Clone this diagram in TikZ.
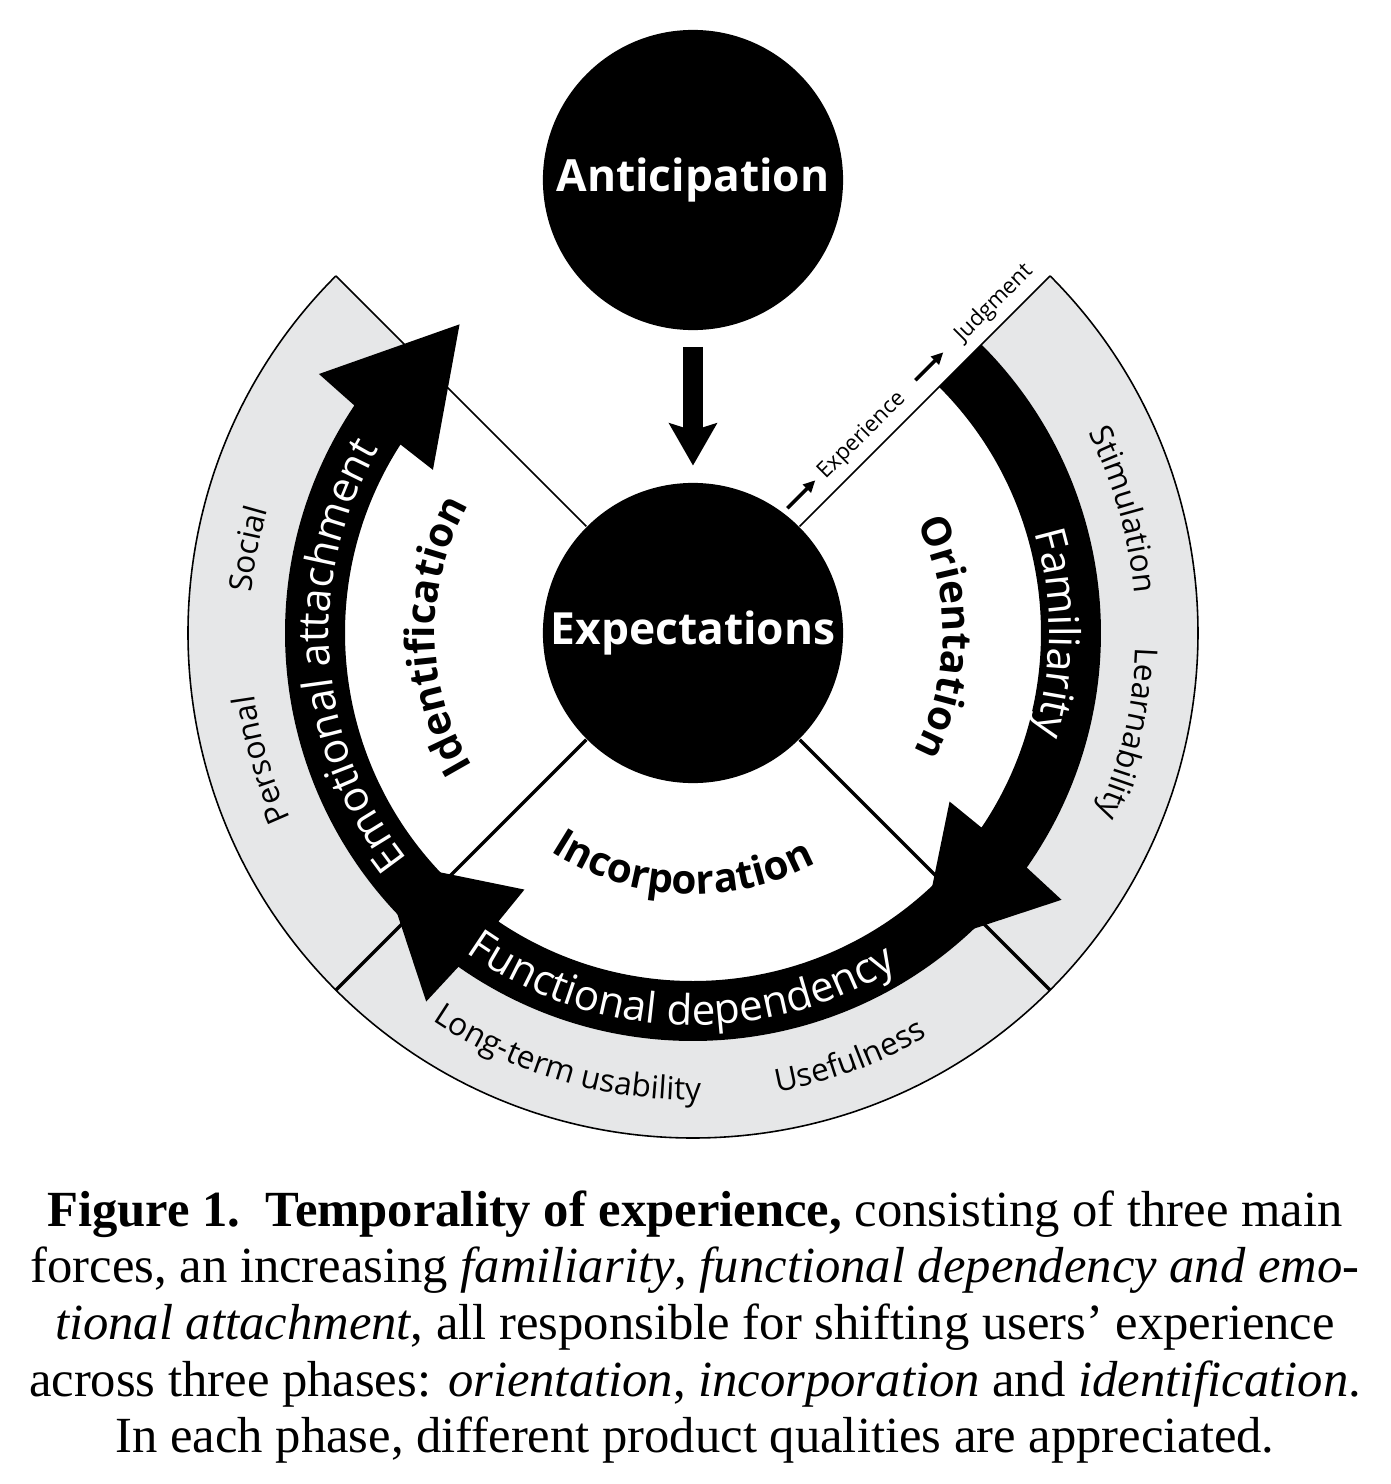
\documentclass[tikz,border=0pt]{standalone}
\usepackage{fontspec}
\setmainfont{Liberation Serif}
\newfontfamily\osans{Open Sans}
\usetikzlibrary{arrows.meta}
\usetikzlibrary{decorations.text}
\definecolor{ringgray}{RGB}{230,231,232}
\newcommand\phasefnt{\osans\bfseries\fontsize{11.5}{14}\selectfont} % phase names
\newcommand\bandfnt{\osans\fontsize{12}{14}\selectfont}             % forces in the black bands
\newcommand\qualfnt{\osans\fontsize{9}{11}\selectfont}              % product qualities
\tikzset{
  bandtext/.style={decorate,decoration={text along path,text align=center,text color=white,text={|\bandfnt|#1}}},
  phasetext/.style={decorate,decoration={text along path,text align=center,text={|\phasefnt|#1}}},
  qualtext/.style={decorate,decoration={text along path,text align=center,text={|\qualfnt|#1}}},
}

\begin{document}
\begin{tikzpicture}
  [x=0.01cm,y=0.01cm,
   ball/.style={circle,fill=black,inner sep=0pt,minimum size=3cm,text=white,
                font=\osans\bfseries\fontsize{12.6}{15}\selectfont},
   thin divider/.style={line width=0.45pt},
   thick divider/.style={line width=1pt},
   bigarrow/.style={line width=0.2cm,-{Stealth[length=0.42cm,width=0.47cm,inset=0.07cm]},
                    shorten <=0.16cm,shorten >=0.166cm},
   smallarrow/.style={line width=1pt,-{Triangle[length=0.12cm,width=0.11cm]}},
   steptext/.style={font=\osans\fontsize{6.3}{7}\selectfont,inner sep=0pt},
   captiontext/.style={align=center,inner sep=0pt,font=\fontsize{14.4}{16.1}\selectfont}]
  \useasboundingbox (-693,-851) rectangle (697,633);

  \node[ball] (ant) at (0,453) {Anticipation};
  \node[ball] (exp) at (0,0)   {Expectations};
  \draw[bigarrow] (ant) -- (exp);

  % ring of product qualities
  \fill[ringgray] (135:408) -- (135:505) arc[start angle=135,end angle=405,radius=505]
    -- (45:408) arc[start angle=405,end angle=135,radius=408] -- cycle;
  \draw[thin divider] (135:505) arc[start angle=135,end angle=405,radius=505];

  \foreach \a in {45,135}
    \draw[thin divider] (exp.\a) -- (\a:505);
  \foreach \a in {225,315}
    \draw[thick divider] (exp.\a) -- (\a:505);

  % the three forces
  \foreach \s/\b in {45/-34.6,-45/-124.6,-135/-213.4}
    \fill (\s:408) arc[start angle=\s,end angle=\b-0.5,radius=408]
      -- ({\b-1.3}:455) -- ({\b-19.5}:387) -- ({\b+1.3}:307) -- ({\b+0.6}:348)
      arc[start angle=\b+0.6,end angle=\s,radius=348] -- cycle;

  \path[bandtext=Familiarity] (60:356) arc[start angle=60,end angle=-60,radius=356];
  \path[bandtext=Emotional attachment] (244:364) arc[start angle=244,end angle=124,radius=364];
  \path[bandtext=Functional dependency] (208:392) arc[start angle=208,end angle=328,radius=392];

  \path[phasetext=Orientation] (59:250) arc[start angle=59,end angle=-61,radius=250];
  \path[phasetext=Identification] (240.7:258) arc[start angle=240.7,end angle=120.7,radius=258];
  \path[phasetext=Incorporation] (207.5:261) arc[start angle=207.5,end angle=327.5,radius=261];

  \path[qualtext=Stimulation] (56:443) arc[start angle=56,end angle=-24,radius=443];
  \path[qualtext=Learnability] (27:443) arc[start angle=27,end angle=-53,radius=443];
  \path[qualtext=Social] (209.3:443) arc[start angle=209.3,end angle=129.3,radius=443];
  \path[qualtext=Personal] (236.4:443) arc[start angle=236.4,end angle=156.4,radius=443];
  \path[qualtext=Long-term usability] (213.5:467) arc[start angle=213.5,end angle=293.5,radius=467];
  \path[qualtext=Usefulness] (250.3:467) arc[start angle=250.3,end angle=330.3,radius=467];

  % experience -> judgment along the upper right edge
  \begin{scope}[rotate=45]
    \node[steptext,rotate=45,anchor=base] (expr) at (259,14.5) {Experience};
    \node[steptext,rotate=45,anchor=base] (judg) at (446,14.5) {Judgment};
    \coordinate (e1) at (155,21.5);
    \coordinate (e2) at (194.5,21.5);
    \coordinate (e3) at (336,21.5);
    \coordinate (e4) at (375.5,21.5);
    \draw[smallarrow] (e1) -- (e2);
    \draw[smallarrow] (e3) -- (e4);
  \end{scope}

  \node[captiontext,anchor=north] (cap) at (2,-557)
    {\textbf{Figure 1.\ \ Temporality of experience,} consisting of three main\\
     forces, an increasing \textit{familiarity}, \textit{functional dependency and emo-}\\
     \textit{tional attachment}, all responsible for shifting users' experience\\
     across three phases: \textit{orientation}, \textit{incorporation} and \textit{identification}.\\
     In each phase, different product qualities are appreciated.};
\end{tikzpicture}
\end{document}
